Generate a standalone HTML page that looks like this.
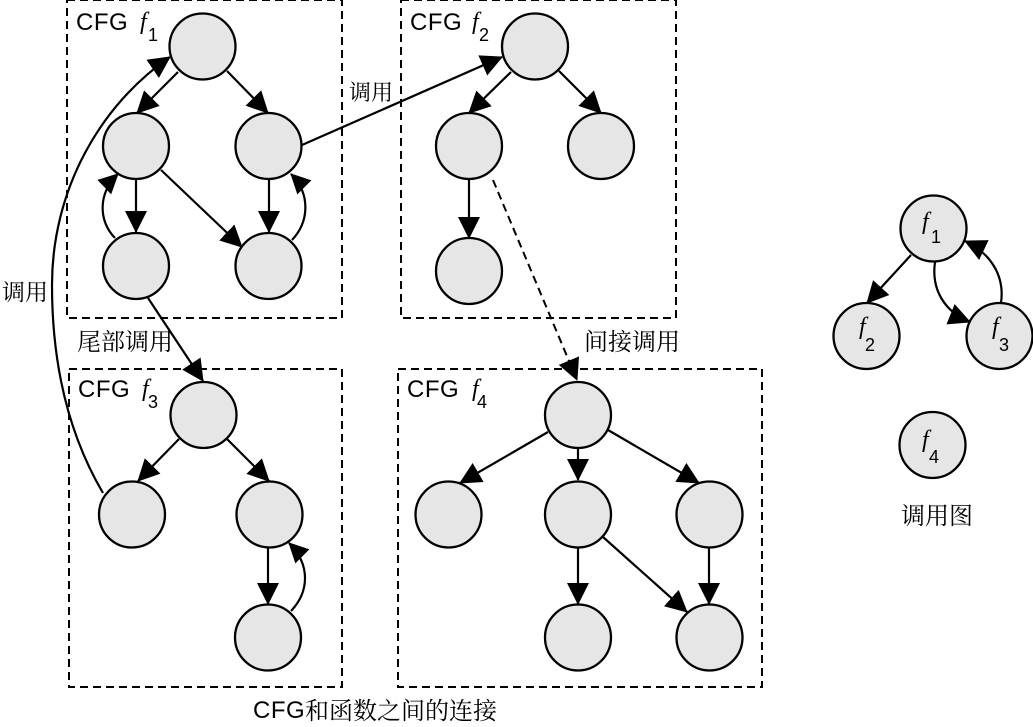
<!DOCTYPE html>
<html><head><meta charset="utf-8"><style>
html,body{margin:0;padding:0;background:#fff}
svg{display:block}
text{fill:#000}
.cn{font-family:"Noto Serif CJK SC","Liberation Serif",serif;font-size:24px}
.n{fill:#e6e6e6;stroke:#000;stroke-width:2.3}
.b{fill:none;stroke:#000;stroke-width:2;stroke-dasharray:8 5}
.l{fill:none;stroke:#000;stroke-width:2.2}
.h{fill:#000;stroke:none}
.cfg{font-family:"Liberation Sans",sans-serif;font-size:24px;letter-spacing:.5px}
.i{font-style:italic;font-family:"Liberation Serif",serif;font-size:24px}
.s{font-family:"Liberation Sans",sans-serif;font-size:18px}
</style></head><body>
<svg width="1033" height="727" viewBox="0 0 1033 727" xmlns="http://www.w3.org/2000/svg">
<defs>
<marker id="a" markerUnits="userSpaceOnUse" markerWidth="26" markerHeight="26" refX="21" refY="11" orient="auto"><path class="h" d="M0 0L22 11L0 22Z"/></marker>
<marker id="c" markerUnits="userSpaceOnUse" markerWidth="24" markerHeight="24" refX="19" refY="10" orient="auto"><path class="h" d="M0 0L20 10L0 20Z"/></marker>
</defs>
<rect class="b" x="67" y="0" width="275" height="318"/>
<rect class="b" x="401" y="0" width="275" height="318"/>
<rect class="b" x="69" y="369" width="273" height="318"/>
<rect class="b" x="398" y="369" width="364" height="318"/>
<g class="l">
<path d="M178 72L137 113" marker-end="url(#a)"/>
<path d="M227 71L268 113" marker-end="url(#a)"/>
<path d="M136 179V232" marker-end="url(#a)"/>
<path d="M269 179V232" marker-end="url(#a)"/>
<path d="M161 170L242 247" marker-end="url(#a)"/>
<path d="M115 238C99 222 97 194 118 174" marker-end="url(#c)"/>
<path d="M292 240C309 222 311 194 291 174" marker-end="url(#c)"/>
<path d="M302 145L502 57" marker-end="url(#a)"/>
<path d="M511 72L469 113" marker-end="url(#a)"/>
<path d="M559 71L601 113" marker-end="url(#a)"/>
<path d="M469 179V238" marker-end="url(#a)"/>
<path d="M148 298L203 381" marker-end="url(#a)"/>
<path d="M103 493C60 420 52 340 52 285C52 190 100 105 170 57" marker-end="url(#a)"/>
<path d="M179 439L138 481" marker-end="url(#a)"/>
<path d="M227 439L269 481" marker-end="url(#a)"/>
<path d="M268 548V604" marker-end="url(#a)"/>
<path d="M291 611C309 592 311 565 289 543" marker-end="url(#c)"/>
<path d="M548 432L460 483" marker-end="url(#a)"/>
<path d="M578 448V480" marker-end="url(#a)"/>
<path d="M608 430L699 483" marker-end="url(#a)"/>
<path d="M578 548V604" marker-end="url(#a)"/>
<path d="M709 548V604" marker-end="url(#a)"/>
<path d="M603 537L687 612" marker-end="url(#a)"/>
<path d="M911 255L867 303" marker-end="url(#a)"/>
<path d="M935 262C931 290 945 312 970 322" marker-end="url(#a)"/>
<path d="M1001 303C1005 275 990 253 965 241" marker-end="url(#a)"/>
</g>
<path d="M493 180L577 380" fill="none" stroke="#000" stroke-width="2" stroke-dasharray="8 5" marker-end="url(#a)"/>
<g class="n">
<circle cx="202.5" cy="46.5" r="33"/><circle cx="136" cy="146" r="33"/><circle cx="268.5" cy="146" r="33"/><circle cx="136" cy="266" r="33"/><circle cx="268.5" cy="266" r="33"/>
<circle cx="535" cy="46.5" r="33"/><circle cx="469" cy="146" r="33"/><circle cx="601" cy="146" r="33"/><circle cx="469" cy="271" r="33"/>
<circle cx="203.5" cy="415" r="33"/><circle cx="132" cy="514.5" r="33"/><circle cx="269.5" cy="514.5" r="33"/><circle cx="268" cy="637.5" r="33"/>
<circle cx="578" cy="415" r="33"/><circle cx="448.5" cy="514.5" r="33"/><circle cx="578" cy="514.5" r="33"/><circle cx="709.5" cy="514.5" r="33"/><circle cx="578" cy="637.5" r="33"/><circle cx="709.5" cy="637.5" r="33"/>
<circle cx="933.5" cy="228.5" r="33"/><circle cx="866.5" cy="336" r="33"/><circle cx="999.5" cy="336" r="33"/><circle cx="932.5" cy="445" r="33"/>
</g>
<text class="cfg" x="76" y="30">CFG</text><text class="i" x="140" y="29">f</text><text class="s" x="148" y="41">1</text>
<text class="cfg" x="410" y="30">CFG</text><text class="i" x="472" y="29">f</text><text class="s" x="479" y="41">2</text>
<text class="cfg" x="78" y="397">CFG</text><text class="i" x="142" y="396">f</text><text class="s" x="148" y="408">3</text>
<text class="cfg" x="407" y="397">CFG</text><text class="i" x="472" y="396">f</text><text class="s" x="477" y="408">4</text>
<text class="i" x="922" y="229">f</text><text class="s" x="931" y="243">1</text>
<text class="i" x="859" y="334">f</text><text class="s" x="865" y="351">2</text>
<text class="i" x="992" y="334">f</text><text class="s" x="999" y="351">3</text>
<text class="i" x="922" y="447">f</text><text class="s" x="929" y="463">4</text>
<text class="cn" x="349" y="100" style="font-size:22px">调用</text>
<text class="cn" x="2" y="300" style="font-size:23px">调用</text>
<text class="cn" x="77" y="350">尾部调用</text>
<text class="cn" x="584" y="350">间接调用</text>
<text class="cn" x="901" y="524">调用图</text>
<text class="cfg" x="253" y="718">CFG</text><text class="cn" x="305" y="719">和函数之间的连接</text>
</svg>
</body></html>
